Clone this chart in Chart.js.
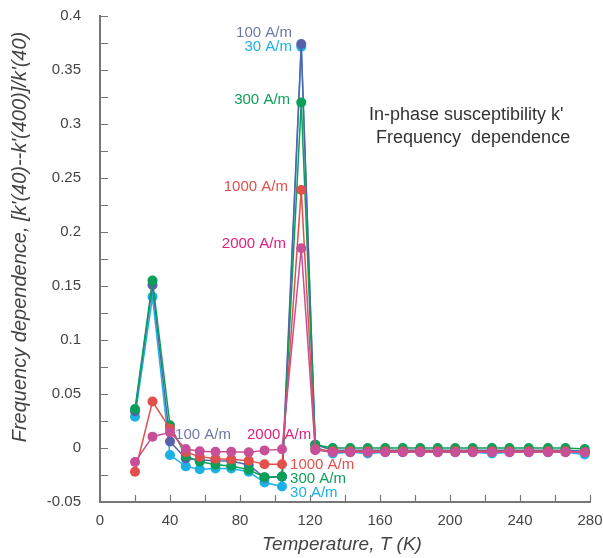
<!DOCTYPE html>
<html>
<head>
<meta charset="utf-8">
<script src="https://cdn.jsdelivr.net/npm/chart.js@4.4.1/dist/chart.umd.min.js"></script>
<style>
  html, body { margin: 0; padding: 0; background: #fff; }
  #wrap { width: 603px; height: 558px; position: relative; }
</style>
</head>
<body>
<div id="wrap"><canvas id="freqChart"></canvas></div>
<script>
// temperatures (K)
var temps = [20, 30, 40, 49, 57, 66, 75, 85, 94, 104, 115, 123, 133, 143, 153, 163, 173, 183, 193, 203, 213, 224, 234, 245, 256, 266, 277];

// frequency dependence for each field amplitude
var field30 = [0.029, 0.140, -0.0065, -0.017, -0.0197, -0.019, -0.019, -0.022, -0.032, -0.0357, 0.3715, 0.001, -0.005, -0.004, -0.005, -0.004, -0.004, -0.004, -0.004, -0.004, -0.004, -0.005, -0.004, -0.004, -0.004, -0.004, -0.006];
var field100 = [0.034, 0.151, 0.006, -0.0098, -0.011, -0.0117, -0.012, -0.0157, -0.0274, -0.0265, 0.374, 0.003, -0.002, -0.002, -0.002, -0.002, -0.002, -0.002, -0.002, -0.002, -0.002, -0.002, -0.002, -0.002, -0.002, -0.002, -0.003];
var field300 = [0.036, 0.155, 0.021, -0.0074, -0.0126, -0.0154, -0.0166, -0.020, -0.027, -0.0265, 0.320, 0.003, 0.000, 0.000, 0.000, 0.000, 0.000, 0.000, 0.000, 0.000, 0.000, 0.000, 0.000, 0.000, 0.000, 0.000, -0.001];
var field1000 = [-0.022, 0.043, 0.018, -0.004, -0.008, -0.010, -0.0105, -0.0117, -0.015, -0.015, 0.239, -0.001, -0.003, -0.003, -0.003, -0.003, -0.003, -0.003, -0.003, -0.003, -0.003, -0.003, -0.003, -0.003, -0.003, -0.003, -0.004];
var field2000 = [-0.013, 0.0105, 0.0145, -0.001, -0.003, -0.0034, -0.0034, -0.004, -0.0022, -0.0012, 0.185, -0.002, -0.004, -0.004, -0.004, -0.004, -0.004, -0.004, -0.004, -0.004, -0.004, -0.004, -0.004, -0.004, -0.004, -0.004, -0.004];

// tick labels that are printed
var xTickLabels = [0, 40, 80, 120, 160, 200, 240, 280];
var yTickLabels = [-0.05, 0, 0.05, 0.1, 0.15, 0.2, 0.25, 0.3, 0.35, 0.4];

var FONT = "'Liberation Sans', Arial, Helvetica, sans-serif";

// series colours
var C30 = '#1cb0e6', C100 = '#5661aa', C300 = '#0c9f57', C1000 = '#e1504b', C2000 = '#c94f97';

// text annotations, anchored in data units
var notes = [
  { text: '100 A/m', x: 109.7, y: 0.384, color: '#6d7aa8', align: 'right' },
  { text: '30 A/m', x: 109.7, y: 0.371, color: '#1cb0e6', align: 'right' },
  { text: '300 A/m', x: 108.6, y: 0.322, color: '#0c9f57', align: 'right' },
  { text: '1000 A/m', x: 107.4, y: 0.2417, color: '#e1504b', align: 'right' },
  { text: '2000 A/m', x: 106.3, y: 0.189, color: '#e0207f', align: 'right' },
  { text: '100 A/m', x: 42.9, y: 0.012, color: '#6d7aa8', align: 'left' },
  { text: '2000 A/m', x: 84, y: 0.012, color: '#e0207f', align: 'left' },
  { text: '1000 A/m', x: 108.6, y: -0.0157, color: '#e1504b', align: 'left' },
  { text: '300 A/m', x: 108.6, y: -0.0287, color: '#0c9f57', align: 'left' },
  { text: '30 A/m', x: 108.6, y: -0.0417, color: '#1cb0e6', align: 'left' }
];

function series(label, data, color) {
  return {
    label: label,
    data: data.map(function (v, i) { return { x: temps[i], y: v }; }),
    borderColor: color,
    backgroundColor: color,
    borderWidth: 1.5,
    pointRadius: 5,
    pointBorderWidth: 0,
    pointBackgroundColor: color,
    tension: 0
  };
}

// inward tick marks, annotations, and the axis titles
var extras = {
  id: 'extras',
  afterDraw: function (chart) {
    var ctx = chart.ctx;
    var area = chart.chartArea;
    var xs = chart.scales.x, ys = chart.scales.y;
    ctx.save();
    ctx.strokeStyle = '#777';
    ctx.lineWidth = 1.2;
    ctx.beginPath();
    ys.ticks.forEach(function (t) {
      var py = Math.round(ys.getPixelForValue(t.value)) + 0.5;
      ctx.moveTo(area.left, py);
      ctx.lineTo(area.left + 8, py);
    });
    xs.ticks.forEach(function (t) {
      var px = Math.round(xs.getPixelForValue(t.value)) + 0.5;
      ctx.moveTo(px, area.bottom);
      ctx.lineTo(px, area.bottom - 7);
    });
    ctx.stroke();

    ctx.font = '15px ' + FONT;
    ctx.textBaseline = 'middle';
    notes.forEach(function (n) {
      ctx.fillStyle = n.color;
      ctx.textAlign = n.align;
      ctx.fillText(n.text, xs.getPixelForValue(n.x), ys.getPixelForValue(n.y));
    });

    ctx.fillStyle = '#333';
    ctx.font = '18px ' + FONT;
    ctx.textAlign = 'left';
    ctx.fillText("In-phase susceptibility k'", 369, 115);
    ctx.fillText('Frequency  dependence', 376, 138);

    ctx.fillStyle = '#444';
    ctx.font = 'italic 19px ' + FONT;
    ctx.textAlign = 'center';
    ctx.fillText('Temperature, T (K)', 342, 545);

    ctx.translate(20, 237);
    ctx.rotate(-Math.PI / 2);
    ctx.font = 'italic 20px ' + FONT;
    ctx.fillText("Frequency dependence, [k'(40)--k'(400)]/k'(40)", 0, 0);
    ctx.restore();
  }
};

var ctx = document.getElementById('freqChart').getContext('2d');
new Chart(ctx, {
  type: 'line',
  data: {
    datasets: [
      series('2000 A/m', field2000, C2000),
      series('1000 A/m', field1000, C1000),
      series('300 A/m', field300, C300),
      series('100 A/m', field100, C100),
      series('30 A/m', field30, C30)
    ]
  },
  options: {
    responsive: true,
    maintainAspectRatio: false,
    animation: false,
    layout: { padding: { left: 0, right: 13, top: 16, bottom: 0 } },
    plugins: {
      legend: { display: false },
      tooltip: { enabled: false }
    },
    scales: {
      x: {
        type: 'linear',
        min: 0,
        max: 280,
        grid: { drawOnChartArea: false, drawTicks: false },
        border: { display: true, color: '#777', width: 2 },
        ticks: {
          stepSize: 20,
          padding: 10,
          color: '#444',
          font: { family: FONT, size: 15 },
          maxRotation: 0,
          autoSkip: false,
          callback: function (v) {
            return xTickLabels.indexOf(v) >= 0 ? String(v) : '';
          }
        },
        afterFit: function (s) {
          s.height = 56;
          s.paddingLeft = 0; s.paddingRight = 0; s.paddingTop = 0; s.paddingBottom = 0;
        }
      },
      y: {
        min: -0.05,
        max: 0.4,
        grid: { drawOnChartArea: false, drawTicks: false },
        border: { display: true, color: '#777', width: 2 },
        ticks: {
          stepSize: 0.025,
          padding: 19,
          color: '#444',
          font: { family: FONT, size: 15 },
          autoSkip: false,
          callback: function (v) {
            var r = Number(v.toFixed(3));
            return yTickLabels.indexOf(r) >= 0 ? String(r) : '';
          }
        },
        afterFit: function (s) {
          s.width = 100;
          s.paddingLeft = 0; s.paddingRight = 0; s.paddingTop = 0; s.paddingBottom = 0;
        }
      }
    }
  },
  plugins: [extras]
});
</script>
</body>
</html>
